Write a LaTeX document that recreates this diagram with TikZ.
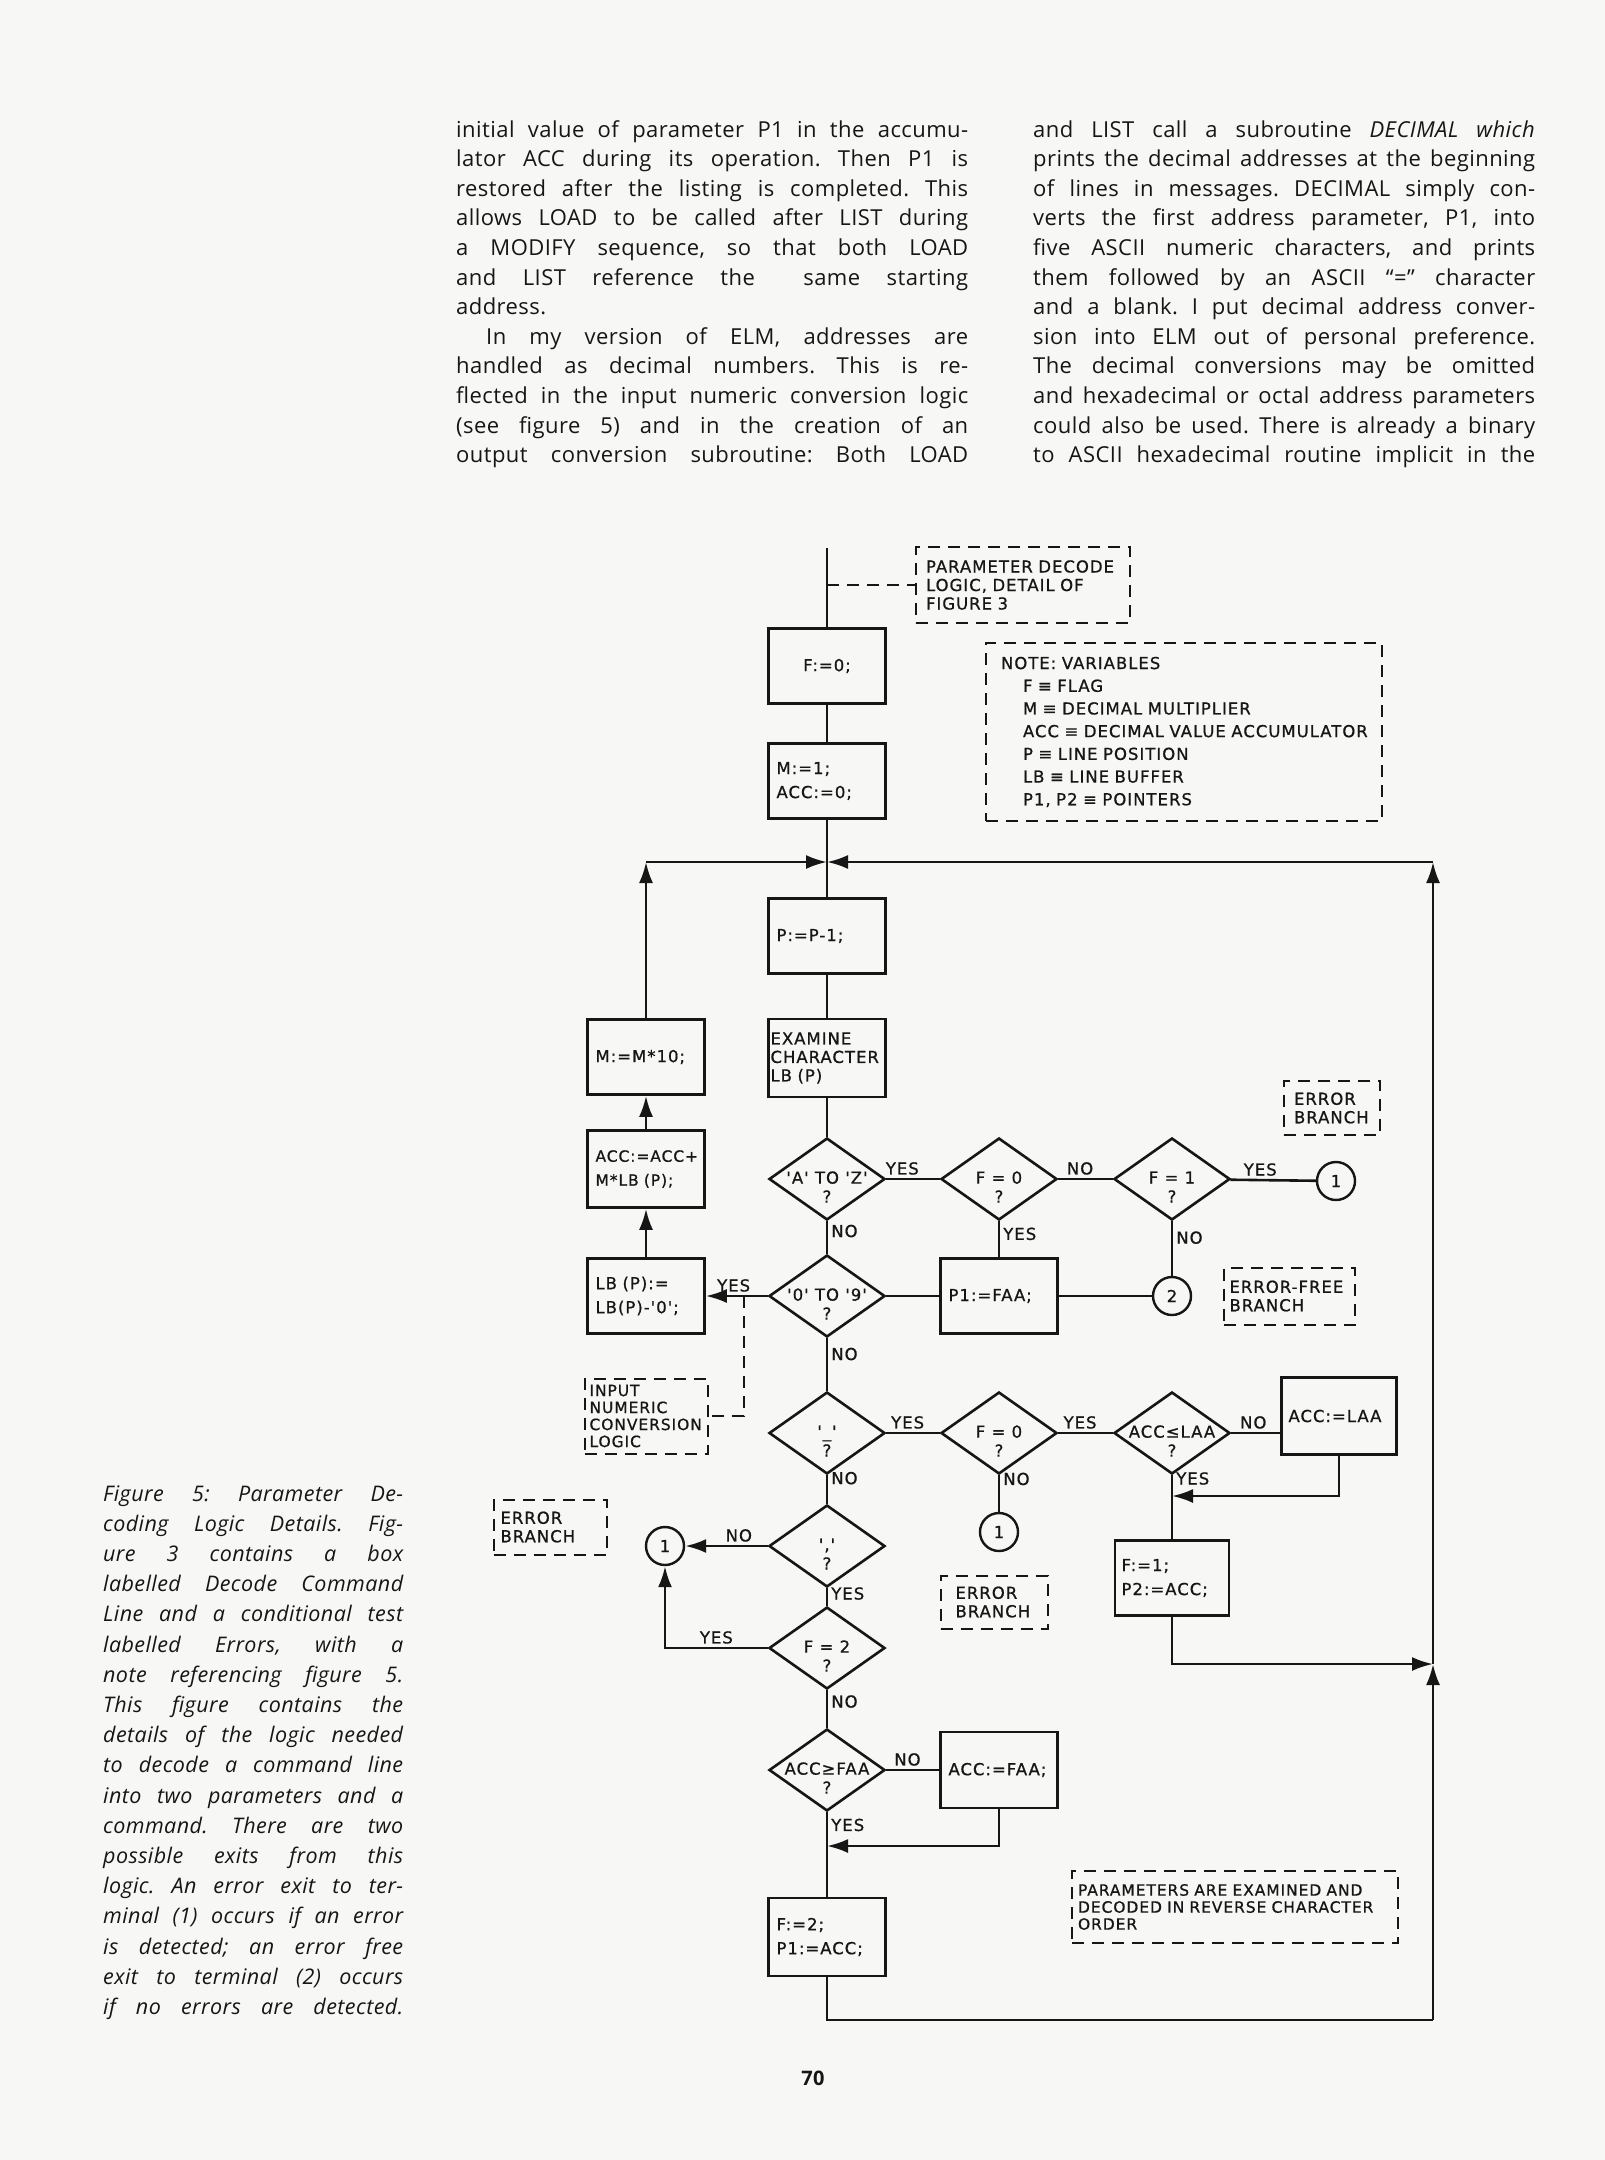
\documentclass[tikz,border=0pt]{standalone}
\usepackage{fontspec}
\setmainfont{Open Sans}
\newfontfamily\bodyfont[LetterSpace=2]{Open Sans}
\newfontfamily\chartfont[LetterSpace=6, FakeBold=0.8]{DejaVu Sans}
\usetikzlibrary{shapes.geometric, arrows.meta, positioning, calc}

\definecolor{paper}{RGB}{247,247,245}
\definecolor{ink}{RGB}{22,22,22}

\newcommand\chart{\chartfont\fontsize{16.5}{24}\selectfont}
\newcommand\chartsm{\chartfont\fontsize{16.5}{18.5}\selectfont}
\newcommand\chartxs{\chartfont\fontsize{15.5}{17}\selectfont}
\newcommand\charttab{\chartfont\fontsize{16.5}{22.7}\selectfont}
\newcommand\chartdia{\chartfont\fontsize{16.5}{19}\selectfont}
\newcommand\bodytext{\bodyfont\fontsize{22}{29.6}\selectfont\frenchspacing}
\newcommand\jl[1]{\makebox[\linewidth][s]{#1}\par}
\newcommand\jend[1]{\makebox[\linewidth][l]{#1}\par}

\begin{document}
\begin{tikzpicture}[x=1pt, y=-1pt,
    flow/.style={draw=ink, line width=2.6pt},
    arr/.style={flow, -{Latex[length=21pt,width=14pt]}},
    box/.style={draw=ink, line width=2.6pt, minimum width=117pt, minimum height=75pt, inner sep=0pt, text width=101pt, align=left, font=\chart, text=ink},
    dia/.style={diamond, draw=ink, line width=2.6pt, minimum width=116pt, minimum height=82pt, inner sep=0pt},
    dtext/.style={font=\chartdia, align=center, inner sep=0pt, text=ink},
    term/.style={circle, draw=ink, line width=2.4pt, minimum size=38pt, inner sep=0pt, font=\chart, text=ink},
    note/.style={draw=ink, line width=2pt, dash pattern=on 12pt off 8pt, inner sep=0pt, align=left, font=\chartsm, text=ink},
    dline/.style={draw=ink, line width=2pt, dash pattern=on 12pt off 8pt},
    lbl/.style={font=\chart, inner sep=3pt, text=ink}
  ]
  \fill[paper] (0,0) rectangle (1605,2160);

  % --- TEXT COLUMNS ---
  \node[anchor=base west, inner sep=0pt, text=ink] (colL) at (456,137) {\parbox[t]{512pt}{\bodytext
    \jl{initial value of parameter P1 in the accumu-}
    \jl{lator ACC during its operation. Then P1 is}
    \jl{restored after the listing is completed. This}
    \jl{allows LOAD to be called after LIST during}
    \jl{a MODIFY sequence, so that both LOAD}
    \jl{and LIST reference the \quad same starting}
    \jend{address.}
    \jl{\hspace*{30pt}In my version of ELM, addresses are}
    \jl{handled as decimal numbers. This is re-}
    \jl{flected in the input numeric conversion logic}
    \jl{(see figure 5) and in the creation of an}
    \jl{output conversion subroutine: Both LOAD}}};
  \node[anchor=base west, inner sep=0pt, text=ink] (colR) at (1033,137) {\parbox[t]{502pt}{\bodytext
    \jl{and LIST call a subroutine \textit{DECIMAL which}}
    \jl{prints the decimal addresses at the beginning}
    \jl{of lines in messages. DECIMAL simply con-}
    \jl{verts the first address parameter, P1, into}
    \jl{five ASCII numeric characters, and prints}
    \jl{them followed by an ASCII “=” character}
    \jl{and a blank. I put decimal address conver-}
    \jl{sion into ELM out of personal preference.}
    \jl{The decimal conversions may be omitted}
    \jl{and hexadecimal or octal address parameters}
    \jl{could also be used. There is already a binary}
    \jl{to ASCII hexadecimal routine implicit in the}}};

  % --- CAPTION ---
  \node[anchor=base west, inner sep=0pt, text=ink] (cap) at (103,1501) {\parbox[t]{300pt}{\bodytext\itshape\fontsize{21.5}{30.2}\selectfont
    \jl{Figure 5: Parameter De-}
    \jl{coding Logic Details. Fig-}
    \jl{ure 3 contains a box}
    \jl{labelled Decode Command}
    \jl{Line and a conditional test}
    \jl{labelled Errors, with a}
    \jl{note referencing figure 5.}
    \jl{This figure contains the}
    \jl{details of the logic needed}
    \jl{to decode a command line}
    \jl{into two parameters and a}
    \jl{command. There are two}
    \jl{possible exits from this}
    \jl{logic. An error exit to ter-}
    \jl{minal (1) occurs if an error}
    \jl{is detected; an error free}
    \jl{exit to terminal (2) occurs}
    \jl{if no errors are detected.}}};

  \node[font=\bodyfont\bfseries\fontsize{20}{24}\selectfont, text=ink] (pageno) at (813,2078) {70};

  % --- NOTES ---
  \node[note, text width=194pt, minimum width=214pt, minimum height=76pt] (pd) at (1023,585) {PARAMETER DECODE\\LOGIC, DETAIL OF\\FIGURE 3};
  \node[note, text width=366pt, minimum width=396pt, minimum height=178pt, font=\charttab] (var) at (1184,732) {NOTE: VARIABLES\\
    \hspace*{22pt}F ≡ FLAG\\
    \hspace*{22pt}M ≡ DECIMAL MULTIPLIER\\
    \hspace*{22pt}ACC ≡ DECIMAL VALUE ACCUMULATOR\\
    \hspace*{22pt}P ≡ LINE POSITION\\
    \hspace*{22pt}LB ≡ LINE BUFFER\\
    \hspace*{22pt}P1, P2 ≡ POINTERS};
  \node[note, text width=76pt, minimum width=96pt, minimum height=54pt] (eb1) at (1332,1108) {ERROR\\BRANCH};
  \node[note, text width=119pt, minimum width=131pt, minimum height=57pt] (efb) at (1289,1296) {ERROR-FREE\\BRANCH};
  \node[note, text width=113pt, minimum width=123pt, minimum height=75pt, font=\chartxs] (inp) at (646,1416) {INPUT\\NUMERIC\\CONVERSION\\LOGIC};
  \node[note, text width=77pt, minimum width=107pt, minimum height=53pt] (eb2) at (994,1602) {ERROR\\BRANCH};
  \node[note, text width=99pt, minimum width=113pt, minimum height=55pt] (eb3) at (550,1527) {ERROR\\BRANCH};
  \node[note, text width=314pt, minimum width=326pt, minimum height=72pt, font=\chartxs] (rev) at (1235,1907) {PARAMETERS ARE EXAMINED AND\\DECODED IN REVERSE CHARACTER\\ORDER};

  % --- MAIN COLUMN ---
  \coordinate (top) at (827,548);
  \node[box, align=center] (F0) at (827,666) {F:=0;};
  \node[box] (M1) at (827,781) {M:=1;\\ACC:=0;};
  \coordinate (jn) at (827,862);
  \node[box] (P) at (827,936) {P:=P-1;};
  \node[box, text width=113pt, font=\chartsm, minimum height=78pt] (EX) at (827,1058) {EXAMINE\\CHARACTER\\LB (P)};

  \node[box] (M10) at (646,1057) {M:=M*10;};
  \node[box, minimum height=77pt, font=\chartfont\fontsize{15.5}{24}\selectfont] (ACC) at (646,1169) {ACC:=ACC+\\M*LB (P);};
  \node[box] (LB) at (646,1296) {LB (P):=\\LB(P)-'0';};

  % decisions, row by row
  \node[dia, label={[dtext, yshift=-8pt]center:{'A' TO 'Z'\\?}}] (d1) at (827,1179) {};
  \node[dia, label={[dtext, yshift=-8pt]center:{F = 0\\?}}] (d2) at (999,1179) {};
  \node[dia, label={[dtext, yshift=-8pt]center:{F = 1\\?}}] (d3) at (1172,1179) {};
  \node[term] (c1a) at (1336,1181) {1};

  \node[dia, label={[dtext, yshift=-8pt]center:{'0' TO '9'\\?}}] (d4) at (827,1296) {};
  \node[box] (PF) at (999,1296) {P1:=FAA;};
  \node[term] (c2) at (1172,1296) {2};

  \node[dia, label={[dtext, yshift=-8pt]center:{'\_'\\?}}] (d5) at (827,1433) {};
  \node[dia, label={[dtext, yshift=-8pt]center:{F = 0\\?}}] (d6) at (999,1433) {};
  \node[dia, label={[dtext, yshift=-8pt]center:{ACC≤LAA\\?}}] (d7) at (1172,1433) {};
  \node[box, minimum width=115pt, minimum height=77pt] (AL) at (1339,1416) {ACC:=LAA};
  \coordinate (m7) at (1172,1496);
  \node[box, minimum width=114pt] (F1) at (1172,1578) {F:=1;\\P2:=ACC;};
  \node[term] (c1b) at (999,1532) {1};

  \node[dia, label={[dtext, yshift=-8pt]center:{','\\?}}] (d8) at (827,1546) {};
  \node[term] (c1c) at (665,1546) {1};
  \node[dia, label={[dtext, yshift=-8pt]center:{F = 2\\?}}] (d9) at (827,1648) {};
  \node[dia, label={[dtext, yshift=-8pt]center:{ACC≥FAA\\?}}] (d10) at (827,1770) {};
  \node[box, minimum height=76pt] (AF) at (999,1770) {ACC:=FAA;};
  \coordinate (m10) at (827,1846);
  \node[box, minimum height=78pt] (F2) at (827,1937) {F:=2;\\P1:=ACC;};

  % loop corners
  \coordinate (cl) at (646,862);
  \coordinate (cr) at (1433,862);
  \coordinate (r1) at (1433,1664);
  \coordinate (br) at (1433,2020);
  \coordinate (dj) at (744,1296);

  % --- CONNECTORS ---
  \draw[flow] (top) -- (F0);
  \draw[dline] (pd.west -| top) -- (pd.west);
  \draw[flow] (F0) -- (M1);
  \draw[flow] (M1) -- (jn);
  \draw[flow] (jn) -- (P);
  \draw[flow] (P) -- (EX);
  \draw[flow] (EX) -- (d1);

  \draw[arr] (LB) -- (ACC);
  \draw[arr] (ACC) -- (M10);
  \draw[arr] (M10) -- (cl);
  \draw[arr] (cl) -- (jn);

  \draw[flow] (d1) -- node[lbl, above, pos=0.3] {YES} (d2);
  \draw[flow] (d2) -- node[lbl, above, pos=0.4] {NO} (d3);
  \draw[flow] (d3) -- node[lbl, above, pos=0.35] {YES} (c1a);
  \draw[flow] (d1) -- node[lbl, right, pos=0.3] {NO} (d4);
  \draw[flow] (d2) -- node[lbl, right, pos=0.35] {YES} (PF);
  \draw[flow] (d3) -- node[lbl, right, pos=0.3] {NO} (c2);

  \draw[arr] (d4) -- node[lbl, above, pos=0.55] {YES} (LB);
  \draw[dline] (dj) |- (inp);
  \draw[flow] (d4) -- (PF);
  \draw[flow] (PF) -- (c2);
  \draw[flow] (d4) -- node[lbl, right, pos=0.3] {NO} (d5);

  \draw[flow] (d5) -- node[lbl, above, pos=0.4] {YES} (d6);
  \draw[flow] (d6) -- node[lbl, above, pos=0.4] {YES} (d7);
  \draw[flow] (d7.east) -- node[lbl, above, pos=0.45] {NO} (d7.east -| AL.west);
  \draw[arr] (AL) |- (m7);
  \draw[flow] (d7) -- node[lbl, right, pos=0.05] {YES} (F1);
  \draw[arr] (F1) |- (r1);
  \draw[flow] (d6) -- node[lbl, right, pos=0.1] {NO} (c1b);

  \draw[flow] (d5) -- node[lbl, right, pos=0.1] {NO} (d8);
  \draw[arr] (d8) -- node[lbl, above, pos=0.35] {NO} (c1c);
  \draw[flow] (d8) -- node[lbl, right, pos=0.3] {YES} (d9);
  \draw[arr] (d9) -| node[lbl, above, pos=0.25] {YES} (c1c);
  \draw[flow] (d9) -- node[lbl, right, pos=0.3] {NO} (d10);
  \draw[flow] (d10) -- node[lbl, above, pos=0.4] {NO} (AF);
  \draw[arr] (AF) |- (m10);
  \draw[flow] (d10) -- node[lbl, right, pos=0.15] {YES} (F2);

  \draw[flow] (F2) |- (br);
  \draw[arr] (br) -- (r1);
  \draw[arr] (r1) -- (cr);
  \draw[arr] (cr) -- (jn);
\end{tikzpicture}
\end{document}
